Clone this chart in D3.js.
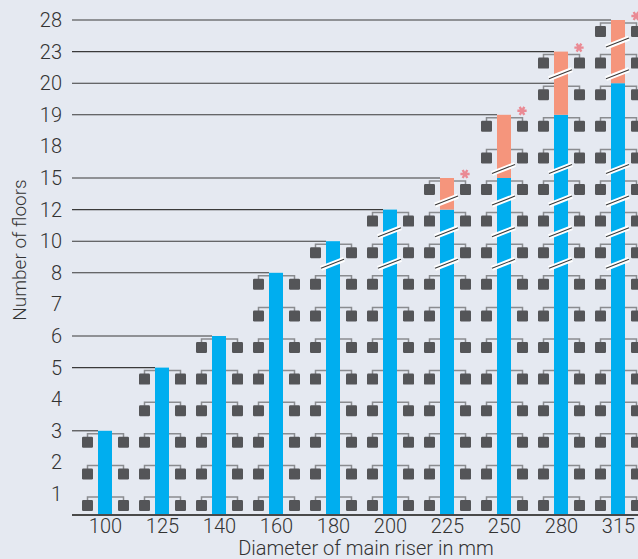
<!DOCTYPE html>
<html>
<head>
<meta charset="utf-8">
<script src="https://cdn.jsdelivr.net/npm/d3@7"></script>
<style>
  html, body { margin: 0; padding: 0; background: #e5e9f1; }
  svg { display: block; }
  text { font-family: Roboto, "Liberation Sans", sans-serif; font-weight: 300; fill: #333; }
</style>
</head>
<body>
<svg id="chart" width="638" height="559"></svg>
<script>
// ---- data ----
const categories = ["100", "125", "140", "160", "180", "200", "225", "250", "280", "315"];
const blueValues = [3, 5, 6, 8, 10, 12, 12, 15, 19, 20];
const totalValues = [3, 5, 6, 8, 10, 12, 15, 19, 23, 28];
const floorLabels = [1, 2, 3, 4, 5, 6, 7, 8, 10, 12, 15, 18, 19, 20, 23, 28];
const xTitle = "Diameter of main riser in mm";
const yTitle = "Number of floors";

// ---- setup ----
const W = 638, H = 559;
const axisY = 515, axisX0 = 72;
const svg = d3.select("#chart");
svg.append("rect").attr("width", W).attr("height", H).attr("fill", "#e5e9f1");

const x = d3.scalePoint().domain(categories).range([105, 618]);
const y = d3.scalePoint().domain(floorLabels).range([494, 20]);
const barW = 14;

const data = categories.map((c, i) => ({
  cat: c, blue: blueValues[i], total: totalValues[i],
  idx: floorLabels.indexOf(totalValues[i])
}));

// reference lines
const levels = Array.from(new Set(blueValues.concat(totalValues))).sort((a, b) => a - b);
svg.append("g").selectAll("line").data(levels).join("line")
  .attr("x1", axisX0)
  .attr("x2", v => { const d = data.find(e => e.total >= v); return x(d.cat) - barW / 2; })
  .attr("y1", v => y(v)).attr("y2", v => y(v))
  .attr("stroke", "#3a3a3a").attr("stroke-width", 1.1);

// floor icons (connectors + units)
const icons = [];
data.forEach(d => {
  for (let k = 0; k <= d.idx; k++) icons.push({ cat: d.cat, lvl: floorLabels[k] });
});
const gIcons = svg.append("g");
gIcons.selectAll("path").data(icons).join("path")
  .attr("d", d => {
    const cx = x(d.cat), L = y(d.lvl);
    return `M${cx - 17.5},${L + 6.5}V${L + 3}H${cx + 18.5}V${L + 6.5}`;
  })
  .attr("fill", "none").attr("stroke", "#8a8c90").attr("stroke-width", 1.5);
gIcons.selectAll("rect.l").data(icons).join("rect").attr("class", "l")
  .attr("x", d => x(d.cat) - 23).attr("y", d => y(d.lvl) + 6)
  .attr("width", 11).attr("height", 11).attr("rx", 1.2)
  .attr("fill", "#545558");
gIcons.selectAll("rect.r").data(icons).join("rect").attr("class", "r")
  .attr("x", d => x(d.cat) + 13).attr("y", d => y(d.lvl) + 6)
  .attr("width", 11).attr("height", 11).attr("rx", 1.2)
  .attr("fill", "#545558");

// bars
const gBars = svg.append("g");
gBars.selectAll("rect.blue").data(data).join("rect").attr("class", "blue")
  .attr("x", d => x(d.cat) - barW / 2).attr("width", barW)
  .attr("y", d => y(d.blue)).attr("height", d => axisY - y(d.blue))
  .attr("fill", "#00aeef");
gBars.selectAll("rect.orange").data(data.filter(d => d.total > d.blue)).join("rect").attr("class", "orange")
  .attr("x", d => x(d.cat) - barW / 2).attr("width", barW)
  .attr("y", d => y(d.total)).attr("height", d => y(d.blue) - y(d.total))
  .attr("fill", "#f5957c");

// break marks where floors are skipped
const breaks = [];
data.forEach(d => {
  for (let k = 7; k < d.idx; k++) {
    if (floorLabels[k + 1] - floorLabels[k] > 1) breaks.push({ cat: d.cat, lvl: floorLabels[k] });
  }
});
const gBreaks = svg.append("g");
const breakPath = d => {
  const cx = x(d.cat), c = y(d.lvl) - 9;
  return `M${cx - 12},${c + 4.5}L${cx + 11},${c - 4.5}`;
};
gBreaks.selectAll("path.w").data(breaks).join("path").attr("class", "w")
  .attr("d", breakPath).attr("stroke", "#ffffff").attr("stroke-width", 5).attr("fill", "none");
gBreaks.selectAll("path.k").data(breaks).join("path").attr("class", "k")
  .attr("d", breakPath).attr("stroke", "#3a3a3a").attr("stroke-width", 1.1).attr("fill", "none");

// asterisks
const star = d3.symbol(d3.symbolAsterisk).size(60);
svg.append("g").selectAll("path").data(data.filter(d => d.total > d.blue)).join("path")
  .attr("transform", d => `translate(${x(d.cat) + 18},${y(d.total) - 4}) rotate(90)`)
  .attr("d", star).attr("fill", "none")
  .attr("stroke", "#ea8a94").attr("stroke-width", 2.4);

// x axis line
svg.append("line").attr("x1", axisX0).attr("x2", W).attr("y1", axisY).attr("y2", axisY)
  .attr("stroke", "#4a4a4a").attr("stroke-width", 1.8);

// axes
const xAxis = svg.append("g").attr("transform", `translate(0,${axisY})`)
  .call(d3.axisBottom(x).tickSize(0).tickPadding(4));
xAxis.select(".domain").remove();
xAxis.selectAll("text").attr("font-size", 20).style("fill", "#333");

const yAxis = svg.append("g").attr("transform", `translate(${axisX0},0)`)
  .call(d3.axisLeft(y).tickSize(0).tickPadding(10));
yAxis.select(".domain").remove();
yAxis.selectAll("text").attr("font-size", 20).style("fill", "#333");
svg.selectAll(".tick text").attr("font-family", null);

// titles
svg.append("text").attr("x", 366).attr("y", 555).attr("text-anchor", "middle")
  .attr("font-size", 20).text(xTitle);
svg.append("text").attr("transform", "translate(26,250) rotate(-90)").attr("text-anchor", "middle")
  .attr("font-size", 19).text(yTitle);
</script>
</body>
</html>
